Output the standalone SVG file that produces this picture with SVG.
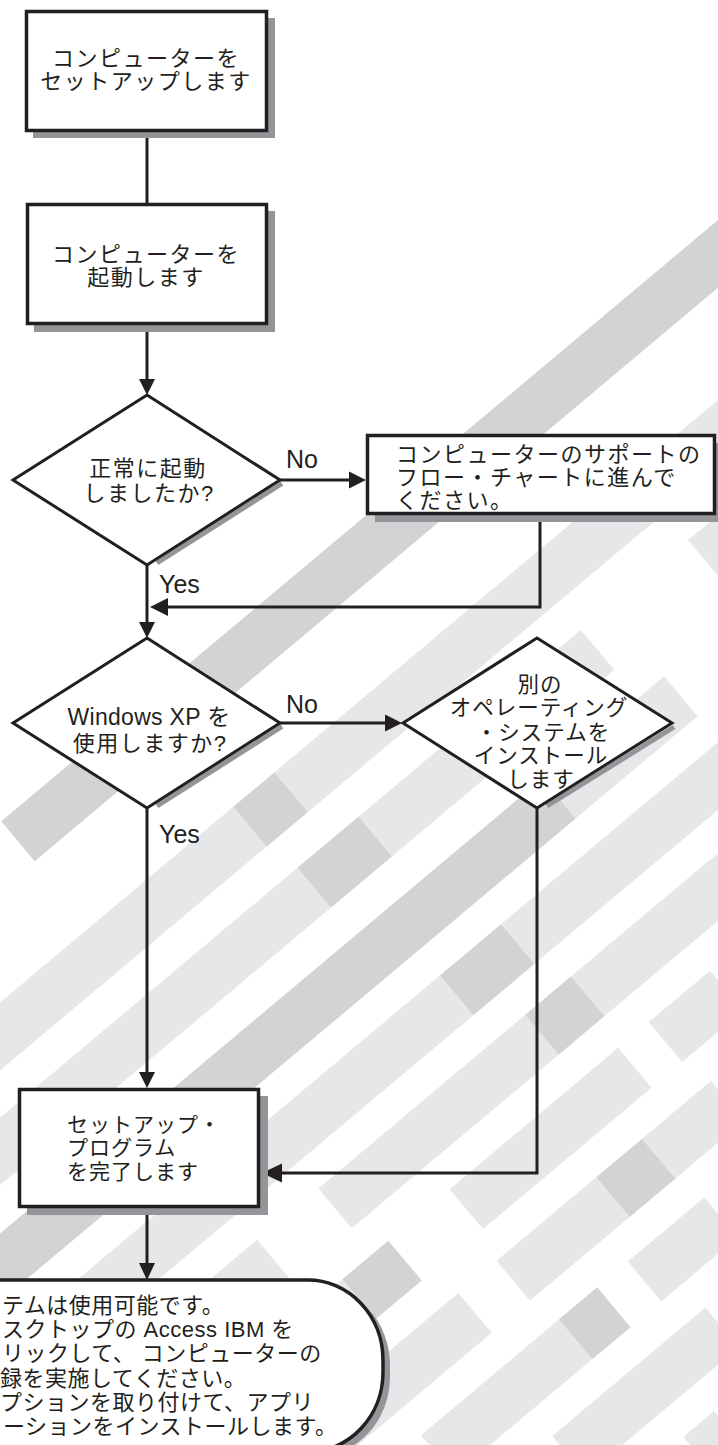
<svg xmlns="http://www.w3.org/2000/svg" width="718" height="1445" viewBox="0 0 718 1445">
<style>
.dk{fill:#d1d3d4}
.lt{fill:#e6e7e8}
.shadow{fill:#939598}
.box{fill:#fff;stroke:#231f20;stroke-width:3.5}
.dia{fill:#fff;stroke:#231f20;stroke-width:3;stroke-linejoin:miter}
.dshadow{stroke:#939598;stroke-width:5;fill:none}
.edge{fill:none;stroke:#231f20;stroke-width:3}
.head{fill:#231f20}
.jp{font-family:"Liberation Sans","Noto Sans CJK JP",sans-serif;fill:#231f20;font-size:22px;letter-spacing:1.5px}
.lbl{font-family:"Liberation Sans",sans-serif;fill:#231f20;font-size:25px}
</style>
<rect width="718" height="1445" fill="#fff"/>
<g id="background" transform="rotate(-40)">
<rect class="dk" x="-527" y="630" width="1150" height="52"/>
<rect class="lt" x="-950" y="768" width="610" height="52"/>
<rect class="dk" x="-340" y="768" width="54" height="52"/>
<rect class="lt" x="-286" y="768" width="906" height="52"/>
<rect class="lt" x="-950" y="856" width="620" height="52"/>
<rect class="dk" x="-330" y="856" width="80" height="52"/>
<rect class="lt" x="-250" y="856" width="290" height="52"/>
<rect class="lt" x="180" y="856" width="440" height="52"/>
<rect class="dk" x="-950" y="945" width="865" height="52"/>
<rect class="lt" x="-85" y="945" width="159" height="52"/>
<rect class="lt" x="-950" y="1030" width="660" height="52"/>
<rect class="dk" x="-290" y="1030" width="80" height="52"/>
<rect class="lt" x="-210" y="1030" width="330" height="52"/>
<rect class="lt" x="-900" y="1115" width="300" height="52"/>
<rect class="lt" x="-520" y="1115" width="270" height="52"/>
<rect class="dk" x="-250" y="1115" width="60" height="52"/>
<rect class="lt" x="-190" y="1115" width="190" height="52"/>
<rect class="lt" x="-800" y="1200" width="240" height="52"/>
<rect class="dk" x="-560" y="1200" width="60" height="52"/>
<rect class="lt" x="-420" y="1200" width="220" height="52"/>
<rect class="lt" x="-160" y="1200" width="80" height="52"/>
<rect class="lt" x="-700" y="1285" width="220" height="52"/>
<rect class="lt" x="-430" y="1285" width="130" height="52"/>
<rect class="dk" x="-300" y="1285" width="60" height="52"/>
<rect class="lt" x="-240" y="1285" width="90" height="52"/>
<rect class="lt" x="-600" y="1370" width="180" height="52"/>
<rect class="dk" x="-420" y="1370" width="50" height="52"/>
<rect class="lt" x="-330" y="1370" width="100" height="52"/>
<rect class="lt" x="-500" y="1455" width="200" height="52"/>
<rect class="lt" x="-400" y="1540" width="40" height="52"/>
</g>
<g id="connectors">
<line class="edge" x1="147" y1="132" x2="147" y2="204"/>
<line class="edge" x1="147" y1="325" x2="147" y2="381"/>
<polygon class="head" points="147,395 139,379 155,379"/>
<line class="edge" x1="280" y1="480" x2="351" y2="480"/>
<polygon class="head" points="366,480 349,471.5 349,488.5"/>
<line class="edge" x1="147" y1="565" x2="147" y2="624"/>
<polygon class="head" points="147,638 139,622 155,622"/>
<polyline class="edge" points="540,515 540,607 166,607"/>
<polygon class="head" points="150,607 168,598 168,616"/>
<line class="edge" x1="280" y1="723" x2="388" y2="723"/>
<polygon class="head" points="402,723 385,714.5 385,731.5"/>
<line class="edge" x1="147" y1="808" x2="147" y2="1074"/>
<polygon class="head" points="147,1088 139,1072 155,1072"/>
<polyline class="edge" points="537,808 537,1173 280,1173"/>
<polygon class="head" points="262,1173 282,1163.5 282,1182.5"/>
<line class="edge" x1="147" y1="1208" x2="147" y2="1264"/>
<polygon class="head" points="147,1280 139,1263 155,1263"/>
<text class="lbl" x="286" y="468">No</text>
<text class="lbl" x="159" y="593">Yes</text>
<text class="lbl" x="286" y="713">No</text>
<text class="lbl" x="159" y="843">Yes</text>
</g>
<g id="n1">
<rect class="shadow" x="33" y="18" width="242" height="120"/>
<rect class="box" x="26.5" y="11.5" width="240" height="119"/>
<text class="jp" text-anchor="middle"><tspan x="146" y="66">コンピューターを</tspan><tspan x="146" y="89">セットアップします</tspan></text>
</g>
<g id="n2">
<rect class="shadow" x="34" y="211" width="241" height="121"/>
<rect class="box" x="27.5" y="204.5" width="239" height="119"/>
<text class="jp" text-anchor="middle"><tspan x="146" y="262">コンピューターを</tspan><tspan x="146" y="285">起動します</tspan></text>
</g>
<g id="d1">
<line class="dshadow" x1="282" y1="483.5" x2="157" y2="563"/>
<polygon class="dia" points="147,395 280,480 147,565 13,480"/>
<text class="jp" text-anchor="middle"><tspan x="148" y="476">正常に起動</tspan><tspan x="149" y="501">しましたか?</tspan></text>
</g>
<g id="n3">
<rect class="shadow" x="375" y="443" width="350" height="79"/>
<rect class="box" x="367.5" y="435.5" width="347" height="78"/>
<text class="jp"><tspan x="396" y="462">コンピューターのサポートの</tspan><tspan x="396" y="485">フロー・チャートに進んで</tspan><tspan x="396" y="508">ください。</tspan></text>
</g>
<g id="d2">
<line class="dshadow" x1="282" y1="726.5" x2="157" y2="806"/>
<polygon class="dia" points="147,638 280,723 147,808 13,723"/>
<text class="jp" text-anchor="middle"><tspan x="149" y="725" style="font-size:23px;letter-spacing:0.3px">Windows XP を</tspan><tspan x="150" y="751">使用しますか?</tspan></text>
</g>
<g id="d3">
<line class="dshadow" x1="674" y1="727" x2="547" y2="806"/>
<polygon class="dia" points="537,638 672,723 537,808 403,723"/>
<text class="jp" text-anchor="middle" style="font-size:21.5px;letter-spacing:1px"><tspan x="540" y="692">別の</tspan><tspan x="539" y="715">オペレーティング</tspan><tspan x="543" y="740">・システムを</tspan><tspan x="541" y="763">インストール</tspan><tspan x="541" y="787">します</tspan></text>
</g>
<g id="n4">
<rect class="shadow" x="27" y="1096" width="241" height="119"/>
<rect class="box" x="19.5" y="1089.5" width="239" height="117"/>
<text class="jp" style="font-size:21px;letter-spacing:1px"><tspan x="67" y="1132">セットアップ・</tspan><tspan x="67" y="1155">プログラム</tspan><tspan x="67" y="1179">を完了します</tspan></text>
</g>
<g id="n5">
<path class="shadow" d="M -20 1285 H 315 A 75 80 0 0 1 390 1365 V 1377 A 75 80 0 0 1 315 1457 H -20 Z"/>
<path class="box" d="M -20 1280 H 308 A 75 80 0 0 1 383 1360 V 1372 A 75 80 0 0 1 308 1452 H -20 Z"/>
<text class="jp" style="font-size:22px;letter-spacing:0.5px"><tspan x="2" y="1313">テムは使用可能です。</tspan><tspan x="2" y="1337">スクトップの Access IBM を</tspan><tspan x="2" y="1361">リックして、 コンピューターの</tspan><tspan x="0" y="1386">録を実施してください。</tspan><tspan x="0" y="1410">プションを取り付けて、アプリ</tspan><tspan x="3" y="1434">ーションをインストールします。</tspan></text>
</g>
</svg>
